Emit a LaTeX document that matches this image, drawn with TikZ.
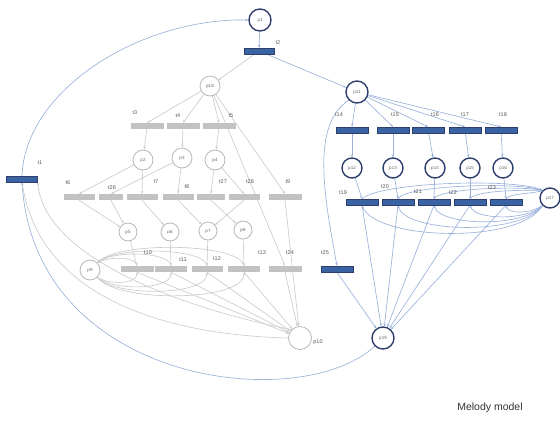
\documentclass[tikz,border=0pt]{standalone}
\usepackage{fontspec}
\setmainfont{Liberation Sans}
\usetikzlibrary{arrows.meta,backgrounds}
\definecolor{bluefill}{HTML}{3A63A3}
\definecolor{navy}{HTML}{2E3F6E}
\definecolor{grayfill}{HTML}{C2C2C2}
\definecolor{grayline}{HTML}{CBCBCB}
\definecolor{blueline}{HTML}{9AB1DA}
\definecolor{grayring}{HTML}{B8B8B8}
\begin{document}
\begin{tikzpicture}[x=1pt,y=-1pt,
  bplace/.style={circle,draw=navy,line width=1.4pt,fill=white,inner sep=0pt,minimum size=#1,font=\fontsize{4.5}{5}\selectfont,text=black!60},
  gplace/.style={circle,draw=grayring,line width=0.8pt,fill=white,inner sep=0pt,minimum size=#1,font=\fontsize{4.5}{5}\selectfont,text=black!60},
  btrans/.style={rectangle,fill=bluefill,draw=navy,line width=0.3pt,minimum width=#1,minimum height=6pt,inner sep=0pt},
  gtrans/.style={rectangle,fill=grayfill,minimum width=#1,minimum height=6pt,inner sep=0pt},
  lbl/.style={font=\fontsize{5.5}{6.5}\selectfont,text=black!65,inner sep=0pt},
  bedge/.style={draw=blueline,line width=0.65pt,-{Stealth[length=3pt,width=2.4pt]}},
  gedge/.style={draw=grayline,line width=0.65pt,-{Stealth[length=3pt,width=2.4pt]}}]
\useasboundingbox (0,0) rectangle (560,429);
% places
\node[bplace=22pt] (p1) at (260,20) {p1};
\node[gplace=20pt] (p18) at (210,86) {p18};
\node[gplace=20pt] (p2) at (143,160) {p2};
\node[gplace=20pt] (p3) at (182,158) {p3};
\node[gplace=20pt] (p4) at (215,160) {p4};
\node[gplace=18pt] (p5) at (128,232) {p5};
\node[gplace=18pt] (p6) at (170,232) {p6};
\node[gplace=18pt] (p7) at (208,231) {p7};
\node[gplace=18pt] (p8) at (243,230) {p8};
\node[gplace=20pt] (p9) at (90,270) {p9};
\node[gplace=23pt] (p10) at (300,338) {};
\node[lbl] (lp10) at (318,342) {p10};
\node[bplace=22pt] (p11) at (357,92) {p11};
\node[bplace=20pt] (p12) at (352,168) {p12};
\node[bplace=20pt] (p13) at (393,168) {p13};
\node[bplace=20pt] (p14) at (435,168) {p14};
\node[bplace=20pt] (p15) at (470,168) {p15};
\node[bplace=20pt] (p16) at (503,168) {p16};
\node[bplace=20pt] (p17) at (550,198) {p17};
\node[bplace=22pt] (p19) at (383,338) {p19};
% transitions
\node[btrans=31pt] (t1) at (22,179) {};
\node[lbl] (lt1) at (40,163) {t1};
\node[btrans=30pt] (t2) at (259,51) {};
\node[lbl] (lt2) at (278,43) {t2};
\node[gtrans=33pt] (t3) at (147,126) {};
\node[gtrans=33pt] (t4) at (183,126) {};
\node[gtrans=33pt] (t5) at (219,126) {};
\node[lbl] (lt3) at (135,113) {t3};
\node[lbl] (lt4) at (178,116) {t4};
\node[lbl] (lt5) at (231,116) {t5};
\node[gtrans=31pt] (t6) at (79,197) {};
\node[gtrans=24pt] (t26) at (111,197) {};
\node[gtrans=31pt] (t7) at (142,197) {};
\node[gtrans=31pt] (t8) at (178,197) {};
\node[gtrans=28pt] (t27) at (211,197) {};
\node[gtrans=31pt] (t28) at (244,197) {};
\node[gtrans=33pt] (t9) at (285,197) {};
\node[lbl] (lt6) at (68,183) {t6};
\node[lbl] (lt26) at (112,188) {t26};
\node[lbl] (lt7) at (156,182) {t7};
\node[lbl] (lt8) at (187,187) {t8};
\node[lbl] (lt27) at (223,182) {t27};
\node[lbl] (lt28) at (250,182) {t28};
\node[lbl] (lt9) at (288,182) {t9};
\node[gtrans=33pt] (t10) at (137,269) {};
\node[gtrans=32pt] (t11) at (171,269) {};
\node[gtrans=31pt] (t12) at (207,269) {};
\node[gtrans=32pt] (t13) at (244,269) {};
\node[gtrans=33pt] (t24) at (285,269) {};
\node[btrans=32pt] (t25) at (337,269) {};
\node[lbl] (lt10) at (148,253) {t10};
\node[lbl] (lt11) at (183,260) {t11};
\node[lbl] (lt12) at (217,259) {t12};
\node[lbl] (lt13) at (262,253) {t13};
\node[lbl] (lt24) at (290,253) {t24};
\node[lbl] (lt25) at (325,253) {t25};
\node[btrans=32pt] (t14) at (352,130) {};
\node[btrans=32pt] (t15) at (393,130) {};
\node[btrans=32pt] (t16) at (428,130) {};
\node[btrans=32pt] (t17) at (465,130) {};
\node[btrans=32pt] (t18) at (501,130) {};
\node[lbl] (lt14) at (339,115) {t14};
\node[lbl] (lt15) at (395,115) {t15};
\node[lbl] (lt16) at (435,115) {t16};
\node[lbl] (lt17) at (465,115) {t17};
\node[lbl] (lt18) at (503,115) {t18};
\node[btrans=32pt] (t19) at (362,202) {};
\node[btrans=32pt] (t20) at (398,202) {};
\node[btrans=32pt] (t21) at (434,202) {};
\node[btrans=32pt] (t22) at (470,202) {};
\node[btrans=32pt] (t23) at (506,202) {};
\node[lbl] (lt19) at (343,193) {t19};
\node[lbl] (lt20) at (385,187) {t20};
\node[lbl] (lt21) at (418,192) {t21};
\node[lbl] (lt22) at (453,193) {t22};
\node[lbl] (lt23) at (492,188) {t23};
\node[font=\fontsize{10.5}{12}\selectfont,text=black!80] (title) at (490,408) {Melody model};
% edges
\begin{scope}[on background layer]
\draw[bedge] (p1) -- (t2);
\draw[bedge] (t2) -- (p11);
\draw[gedge] (t2) -- (p18);
\draw[bedge] (t1.north) .. controls (25,90) and (140,18) .. (p1.west);
\draw[bedge] (p19.south west) .. controls (300,415) and (35,385) .. (t1.south);
\draw[gedge] (p10.west) .. controls (170,335) and (40,300) .. (t1.south);
\draw[gedge] (p10.north west) .. controls (190,310) and (45,260) .. (t1.south east);
% gray upper part
\foreach \t in {t3,t4,t5} \draw[gedge] (p18) -- (\t.north);
\draw[gedge] (p18) -- (t9.north);
\draw[gedge] (p18) -- (t24.north);
\draw[gedge] (t3) -- (p2);
\draw[gedge] (t4) -- (p3);
\draw[gedge] (t5) -- (p4);
\draw[gedge] (p2) -- (t6.north);
\draw[gedge] (p2) -- (t7.north);
\draw[gedge] (p3) -- (t26.north);
\draw[gedge] (p3) -- (t8.north);
\draw[gedge] (p4) -- (t27.north);
\draw[gedge] (p4) -- (t28.north);
\draw[gedge] (t6.south) -- (p5);
\draw[gedge] (t26.south) -- (p5);
\draw[gedge] (t7.south) -- (p6);
\draw[gedge] (t8.south) -- (p7);
\draw[gedge] (t27.south) -- (p8);
\draw[gedge] (t28.south) -- (p7);
\draw[gedge] (t9.south) -- (p10);
\draw[gedge] (p5) -- (t10.north);
\draw[gedge] (p6) -- (t11.north);
\draw[gedge] (p7) -- (t12.north);
\draw[gedge] (p8) -- (t13.north);
\foreach \t in {t10,t11,t12,t13} \draw[gedge] (\t.south) -- (p10);
\draw[gedge] (t24.south) -- (p10);
% p9 loops
\draw[gedge] (t10.north) .. controls (137,257) and (112,256) .. (p9.north east);
\draw[gedge] (t11.north) .. controls (170,252) and (115,250) .. (p9.north east);
\draw[gedge] (t12.north) .. controls (205,248) and (118,246) .. (p9.north east);
\draw[gedge] (t13.north) .. controls (240,243) and (120,241) .. (p9.north east);
\draw[gedge] (p9.south east) .. controls (110,285) and (137,284) .. (t10.south);
\draw[gedge] (p9.south east) .. controls (112,291) and (171,290) .. (t11.south);
\draw[gedge] (p9.south east) .. controls (114,297) and (207,296) .. (t12.south);
\draw[gedge] (p9.south east) .. controls (116,303) and (244,302) .. (t13.south);
% blue right part
\foreach \t in {t14,t15,t16,t17,t18} \draw[bedge] (p11) -- (\t.north);
\draw[bedge] (t14) -- (p12);
\draw[bedge] (t15) -- (p13);
\draw[bedge] (t16) -- (p14);
\draw[bedge] (t17) -- (p15);
\draw[bedge] (t18) -- (p16);
\draw[bedge] (p12) -- (t19.north);
\draw[bedge] (p13) -- (t20.north);
\draw[bedge] (p14) -- (t21.north);
\draw[bedge] (p15) -- (t22.north);
\draw[bedge] (p16) -- (t23.north);
\foreach \t in {t19,t20,t21,t22,t23} \draw[bedge] (\t.south) -- (p19);
\draw[bedge] (p11.south west) .. controls (310,125) and (325,200) .. (t25.north);
\draw[bedge] (t25.south) -- (p19);
% p17 loops
\draw[bedge] (t19.north) .. controls (380,182) and (515,178) .. (p17.north west);
\draw[bedge] (t20.north) .. controls (405,185) and (518,182) .. (p17.north west);
\draw[bedge] (t21.north) .. controls (440,188) and (522,186) .. (p17.north west);
\draw[bedge] (t22.north) .. controls (475,190) and (527,190) .. (p17.north west);
\draw[bedge] (t23.north) .. controls (510,193) and (532,194) .. (p17.north west);
\draw[bedge] (p17.south west) .. controls (520,245) and (375,240) .. (t19.south);
\draw[bedge] (p17.south west) .. controls (522,236) and (405,233) .. (t20.south);
\draw[bedge] (p17.south west) .. controls (524,228) and (440,226) .. (t21.south);
\draw[bedge] (p17.south west) .. controls (527,221) and (475,220) .. (t22.south);
\draw[bedge] (p17.south west) .. controls (530,214) and (508,214) .. (t23.south);
\end{scope}
\end{tikzpicture}
\end{document}
